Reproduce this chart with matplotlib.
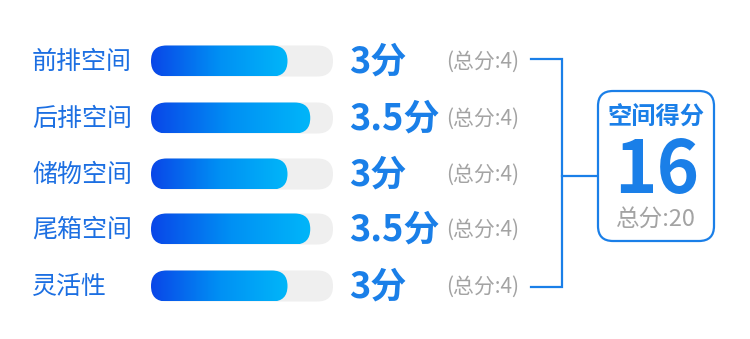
import numpy as np
import matplotlib
matplotlib.use("Agg")
from matplotlib import pyplot as plt
from matplotlib.patches import FancyBboxPatch
from matplotlib.colors import LinearSegmentedColormap

plt.rcParams['font.family'] = ['Noto Sans CJK SC', 'DejaVu Sans']

# data
categories = ['前排空间', '后排空间', '储物空间', '尾箱空间', '灵活性']
scores = [3, 3.5, 3, 3.5, 3]
max_scores = [4, 4, 4, 4, 4]
total_title = '空间得分'
total_score = 16
total_max = 20

blue = '#1a7fe8'
label_blue = '#1c6fe2'
gray = '#a3a3a3'
track = '#efefef'
grad = LinearSegmentedColormap.from_list('g', ['#0a46e8', '#0090f4', '#00b6f9'])

fig = plt.figure(figsize=(7.5, 3.39), dpi=100)
ax = fig.add_axes([0, 0, 1, 1])
ax.set_xlim(0, 750)
ax.set_ylim(339, 0)
ax.axis('off')

row_y = [61, 118, 174, 229, 286]
bar_x0, bar_w, bar_h = 151, 182, 31

for cat, s, m, yc in zip(categories, scores, max_scores, row_y):
    ax.text(32, yc + 1, cat, fontsize=18, color=label_blue, va='center', ha='left')
    # background track
    bg = FancyBboxPatch((bar_x0, yc - bar_h / 2), bar_w, bar_h,
                        boxstyle='round,pad=0,rounding_size=15.5',
                        fc=track, ec='none', zorder=1)
    ax.add_patch(bg)
    # gradient fill
    fw = bar_w * s / m
    fg = FancyBboxPatch((bar_x0, yc - bar_h / 2), fw, bar_h,
                        boxstyle='round,pad=0,rounding_size=15.5',
                        fc='none', ec='none', zorder=2)
    ax.add_patch(fg)
    g = np.linspace(0, 1, 256).reshape(1, -1)
    im = ax.imshow(g, cmap=grad, aspect='auto', zorder=3,
                   extent=(bar_x0, bar_x0 + fw, yc + bar_h / 2, yc - bar_h / 2),
                   interpolation='bilinear')
    im.set_clip_path(fg)
    sval = f'{s:g}分'
    ax.text(349, yc + 12, sval, fontsize=26, fontweight='bold', color=blue,
            va='baseline', ha='left')
    ax.text(446, yc + 1, f'(总分:{m})', fontsize=15, color=gray,
            va='center', ha='left')

# bracket
top, bot = row_y[0] - 2, row_y[-1] + 1
ax.plot([531, 562, 562, 531], [top, top, bot, bot], color=blue, lw=1.6,
        solid_joinstyle='miter')
mid = 176
ax.plot([562, 597], [mid, mid], color=blue, lw=1.6)

# total box
box = FancyBboxPatch((598, 91), 116, 150,
                     boxstyle='round,pad=0,rounding_size=15',
                     fc='white', ec=blue, lw=1.6)
ax.add_patch(box)
ax.text(656, 118, total_title, fontsize=17.5, fontweight='bold', color=blue,
        va='center', ha='center')
ax.text(657, 193, str(total_score), fontsize=52, fontweight='bold', color=blue,
        va='baseline', ha='center')
ax.text(656, 220, f'总分:{total_max}', fontsize=17, color=gray,
        va='center', ha='center')

fig.savefig('out.png', dpi=100)
